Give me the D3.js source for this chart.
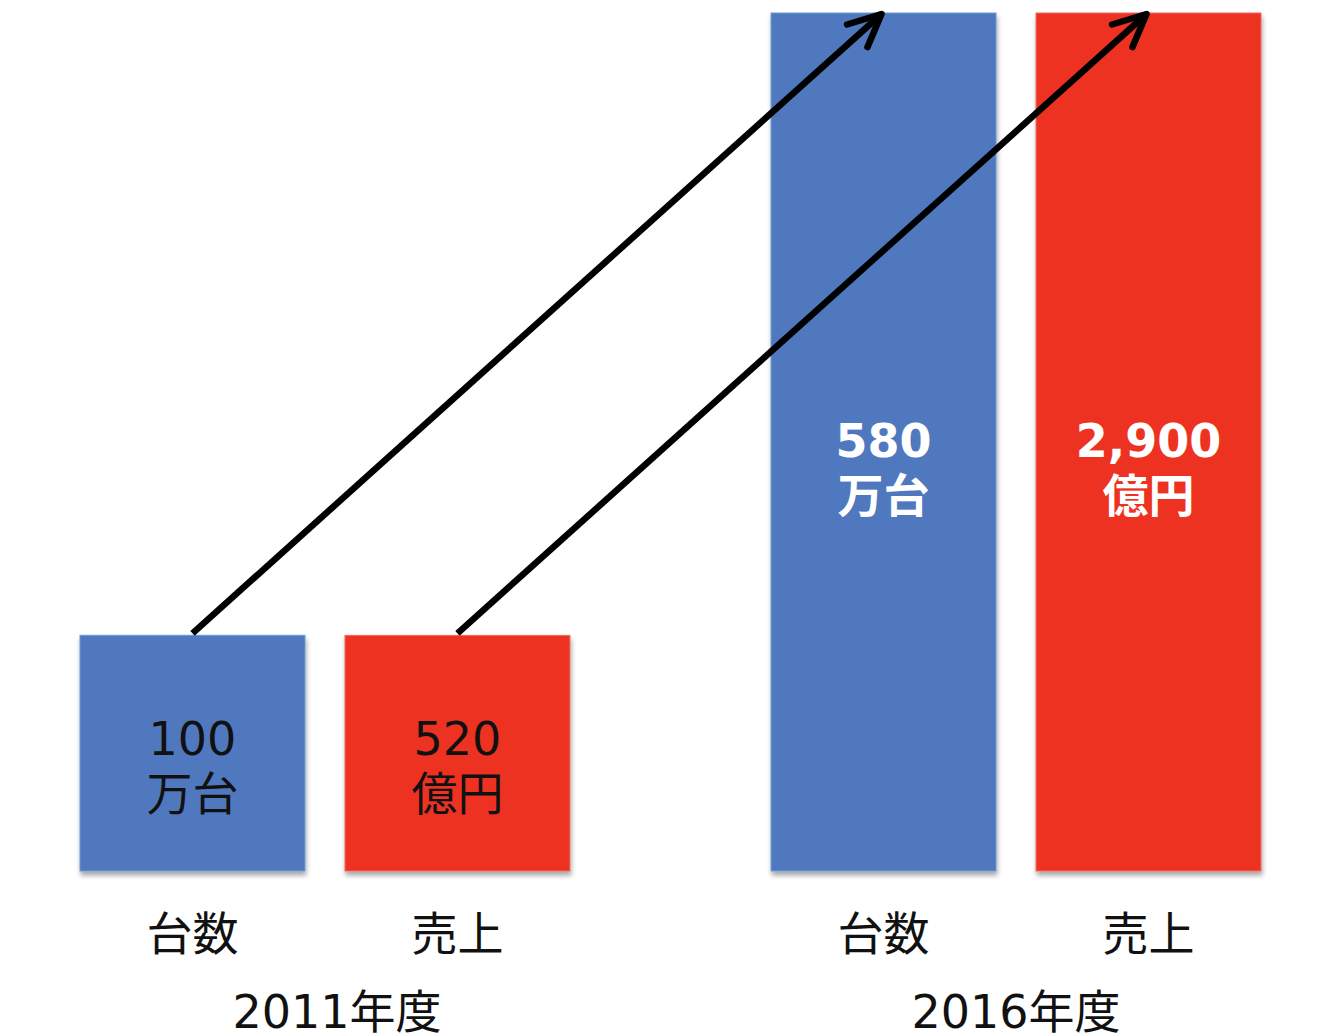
<!DOCTYPE html>
<html>
<head>
<meta charset="utf-8">
<script src="https://cdn.jsdelivr.net/npm/d3@7/dist/d3.min.js"></script>
<style>
  html, body { margin: 0; padding: 0; background: #fff; }
  svg { display: block; }
  text { font-family: "DejaVu Sans", "Noto Sans CJK JP", sans-serif; }
</style>
</head>
<body>
<svg id="chart" width="1334" height="1035"></svg>
<script>
// Fiscal years and the two measures shown for each year
const years = ["2011年度", "2016年度"];
const measures = ["台数", "売上"];
const unitValues = [100, 580];      // 万台
const salesValues = [520, 2900];    // 億円
const measureUnits = ["万台", "億円"];

const W = 1334, H = 1035;
const baseY = 871, topY = 13;
const colors = { "台数": "#5078BE", "売上": "#EE3124" };

const svg = d3.select("#chart");

// soft drop shadow used under bars and the baseline
const defs = svg.append("defs");
const sh = defs.append("filter").attr("id", "shadow")
  .attr("x", "-10%").attr("y", "-10%").attr("width", "120%").attr("height", "130%");
sh.append("feGaussianBlur").attr("in", "SourceAlpha").attr("stdDeviation", 2.5).attr("result", "b");
sh.append("feOffset").attr("in", "b").attr("dx", 1).attr("dy", 4).attr("result", "o");
sh.append("feComponentTransfer").attr("in", "o").attr("result", "s")
  .append("feFuncA").attr("type", "linear").attr("slope", 0.35);
const m = sh.append("feMerge");
m.append("feMergeNode").attr("in", "s");
m.append("feMergeNode").attr("in", "SourceGraphic");

const x0 = d3.scaleBand().domain(years).range([80, 1261]).paddingInner(0.291).paddingOuter(0);
const x1 = d3.scaleBand().domain(measures).range([0, x0.bandwidth()]).paddingInner(0.151).paddingOuter(0);

// each measure has its own unit, so each gets its own (compressed) scale
const yUnits = d3.scalePow().exponent(0.735).domain([0, d3.max(unitValues)]).range([baseY, topY]);
const ySales = d3.scalePow().exponent(0.752).domain([0, d3.max(salesValues)]).range([baseY, topY]);

const data = [];
years.forEach((yr, i) => {
  data.push({ year: yr, measure: "台数", value: unitValues[i], unit: measureUnits[0], y: yUnits, idx: i });
  data.push({ year: yr, measure: "売上", value: salesValues[i], unit: measureUnits[1], y: ySales, idx: i });
});

const fmt = d3.format(",");
const cx = d => x0(d.year) + x1(d.measure) + x1.bandwidth() / 2;

// bars
svg.append("g").selectAll("rect").data(data).join("rect")
  .attr("x", d => x0(d.year) + x1(d.measure))
  .attr("y", d => d.y(d.value))
  .attr("width", x1.bandwidth())
  .attr("height", d => baseY - d.y(d.value))
  .attr("fill", d => colors[d.measure])
  .attr("stroke", d => d.measure === "台数" ? "#6A9AD6" : "#F06A60")
  .attr("stroke-width", 1)
  .attr("filter", "url(#shadow)");

// baseline
svg.append("line")
  .attr("x1", 10).attr("x2", W)
  .attr("y1", baseY + 3).attr("y2", baseY + 3)
  .attr("stroke", "#000").attr("stroke-width", 5.5)
  .attr("filter", "url(#shadow)");

// value labels inside the bars
const labelY = d => {
  const top = d.y(d.value), h = baseY - top;
  return (top + baseY) / 2 - 3.6 + 0.0217 * h;
};
const labels = svg.append("g").selectAll("text").data(data).join("text")
  .attr("text-anchor", "middle")
  .attr("fill", d => d.idx === 0 ? "#111" : "#fff")
  .attr("font-weight", d => d.idx === 0 ? "normal" : "bold")
  .attr("font-size", 46);
labels.append("tspan")
  .attr("x", cx)
  .attr("y", labelY)
  .text(d => fmt(d.value));
labels.append("tspan")
  .attr("x", cx)
  .attr("y", d => labelY(d) + 55)
  .text(d => d.unit);

// growth arrows from each 2011 bar to the matching 2016 bar
const arrowGroup = svg.append("g")
  .attr("stroke", "#000").attr("stroke-width", 6.5)
  .attr("fill", "none").attr("stroke-linecap", "round").attr("stroke-linejoin", "round");
measures.forEach(ms => {
  const a = data.find(d => d.measure === ms && d.idx === 0);
  const b = data.find(d => d.measure === ms && d.idx === 1);
  const sx = cx(a), sy = a.y(a.value) - 2;
  const ex = cx(b) - 2, ey = b.y(b.value) + 1;
  arrowGroup.append("line").attr("x1", sx).attr("y1", sy).attr("x2", ex).attr("y2", ey)
    .attr("stroke-linecap", "butt");
  const ang = Math.atan2(ey - sy, ex - sx);
  const L = 36, spread = 25 * Math.PI / 180;
  const p1 = [ex - L * Math.cos(ang - spread), ey - L * Math.sin(ang - spread)];
  const p2 = [ex - L * Math.cos(ang + spread), ey - L * Math.sin(ang + spread)];
  arrowGroup.append("path").attr("d", `M${p1[0]},${p1[1]}L${ex},${ey}L${p2[0]},${p2[1]}`);
});

// category labels under each bar
svg.append("g").selectAll("text").data(data).join("text")
  .attr("x", cx).attr("y", 950)
  .attr("text-anchor", "middle")
  .attr("font-size", 46).attr("fill", "#111")
  .text(d => d.measure);

// year labels
svg.append("g").selectAll("text").data(years).join("text")
  .attr("x", (d, i) => x0(d) + x0.bandwidth() / 2 + (i === 0 ? 12 : 0))
  .attr("y", 1028)
  .attr("text-anchor", "middle")
  .attr("font-size", 46).attr("fill", "#111")
  .text(d => d);
</script>
</body>
</html>
